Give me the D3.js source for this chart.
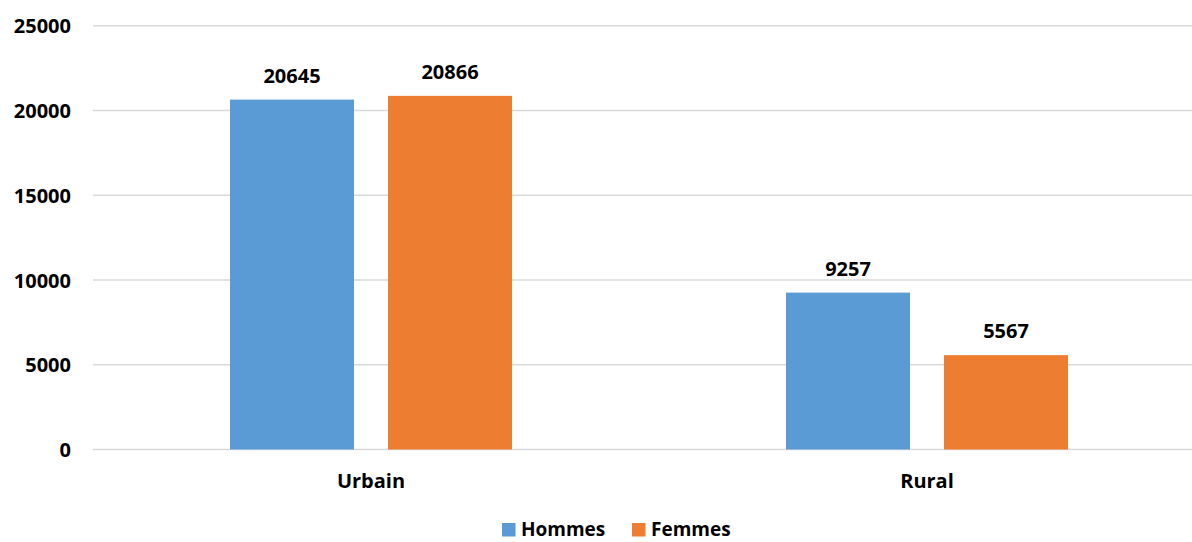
<!DOCTYPE html>
<html>
<head>
<meta charset="utf-8">
<script src="https://cdn.jsdelivr.net/npm/d3@7"></script>
<style>
  html, body { margin: 0; padding: 0; background: #fff; }
  svg { display: block; font-family: "Open Sans", "Liberation Sans", sans-serif; }
</style>
</head>
<body>
<svg id="chart" width="1192" height="542"></svg>
<script>
// Population par milieu de résidence et par sexe
const categories = ["Urbain", "Rural"];
const seriesNames = ["Hommes", "Femmes"];
const hommes = [20645, 9257];
const femmes = [20866, 5567];
const yTicks = [0, 5000, 10000, 15000, 20000, 25000];
const colors = ["#5B9BD5", "#ED7D31"];

const series = [hommes, femmes];
const svg = d3.select("#chart");

const x0 = d3.scaleBand().domain(categories).range([93, 1205]).paddingInner(0).paddingOuter(0);
const groupWidth = 282;
const x1 = d3.scaleBand().domain(seriesNames)
  .range([0, groupWidth]).paddingInner(34 / 158).paddingOuter(0);
const y = d3.scaleLinear().domain([0, 25000]).range([449.5, 25.8]);

// horizontal gridlines
svg.append("g")
  .selectAll("line")
  .data(yTicks)
  .join("line")
  .attr("x1", 93).attr("x2", 1192)
  .attr("y1", d => y(d)).attr("y2", d => y(d))
  .attr("stroke", "#d9d9d9").attr("stroke-width", 1.5);

// y axis labels
const yAxis = d3.axisLeft(y).tickValues(yTicks).tickFormat(d3.format("d")).tickSize(0).tickPadding(0);
svg.append("g")
  .attr("transform", "translate(71,0)")
  .call(yAxis)
  .call(g => g.select(".domain").remove())
  .call(g => g.selectAll("text")
    .attr("font-family", "'Open Sans', sans-serif")
    .attr("font-size", 20).attr("font-weight", 700).attr("fill", "#000")
    .attr("dy", "0.35em"));

// bars
const groups = svg.append("g")
  .selectAll("g")
  .data(categories)
  .join("g")
  .attr("transform", d => `translate(${x0(d) + (x0.bandwidth() - groupWidth) / 2},0)`);

groups.selectAll("rect")
  .data((c, i) => seriesNames.map((s, j) => ({ s, v: series[j][i], j })))
  .join("rect")
  .attr("x", d => x1(d.s))
  .attr("width", x1.bandwidth())
  .attr("y", d => y(d.v))
  .attr("height", d => y(0) - y(d.v))
  .attr("fill", d => colors[d.j]);

// value labels
groups.selectAll("text")
  .data((c, i) => seriesNames.map((s, j) => ({ s, v: series[j][i], j })))
  .join("text")
  .attr("x", d => x1(d.s) + x1.bandwidth() / 2)
  .attr("y", d => y(d.v) - 17)
  .attr("text-anchor", "middle")
  .attr("font-size", 20).attr("font-weight", 700).attr("fill", "#000")
  .text(d => d.v);

// x axis labels
const xAxis = d3.axisBottom(x0).tickSize(0).tickPadding(0);
svg.append("g")
  .call(xAxis)
  .call(g => g.select(".domain").remove())
  .call(g => g.selectAll("text")
    .attr("font-family", "'Open Sans', sans-serif")
    .attr("font-size", 20).attr("font-weight", 700).attr("fill", "#000")
    .attr("y", 488).attr("dy", 0));

// legend
const legendX = [502, 632];
const legend = svg.append("g")
  .selectAll("g")
  .data(seriesNames)
  .join("g")
  .attr("transform", (d, i) => `translate(${legendX[i]},523)`);
legend.append("rect")
  .attr("width", 13.5).attr("height", 13.5)
  .attr("fill", (d, i) => colors[i]);
legend.append("text")
  .attr("x", 19).attr("y", 13)
  .attr("font-size", 19).attr("font-weight", 700).attr("fill", "#000")
  .text(d => d);
</script>
</body>
</html>
